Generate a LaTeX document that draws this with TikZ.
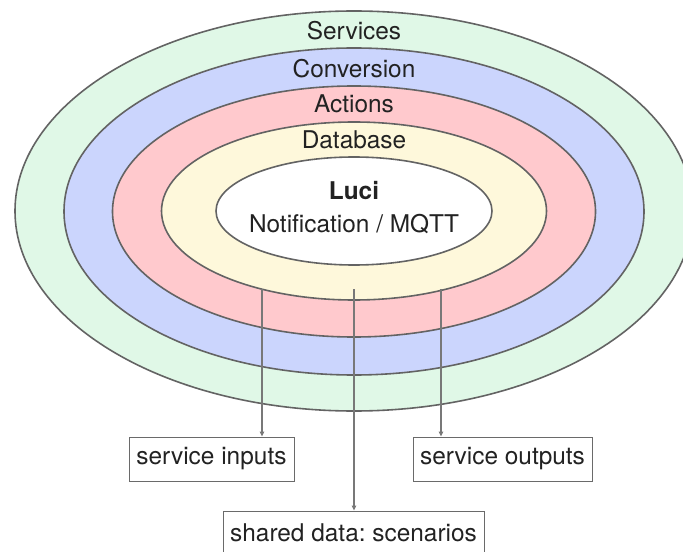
\documentclass[tikz,border=0pt]{standalone}
\usepackage{fontspec}
\setmainfont{TeX Gyre Heros}
\usetikzlibrary{shapes.geometric,arrows.meta}
\definecolor{ringline}{HTML}{636363}
\definecolor{cgreen}{HTML}{E0F8E7}
\definecolor{cblue}{HTML}{CBD5FD}
\definecolor{cred}{HTML}{FFC9CD}
\definecolor{cyellow}{HTML}{FEF8DB}
\definecolor{arrowgray}{HTML}{787878}
\definecolor{boxgray}{HTML}{6A6A6A}
\definecolor{txt}{HTML}{222222}
\tikzset{
  ring/.style={ellipse, draw=ringline, line width=1.6pt, inner sep=0pt},
  ringlabel/.style={font=\fontsize{24.5}{27}\selectfont, text=txt, inner sep=0pt},
  outbox/.style={draw=boxgray, line width=0.9pt, fill=white, font=\fontsize{24.5}{27}\selectfont, text=txt, inner sep=0pt, minimum height=44bp},
  flow/.style={draw=arrowgray, line width=1.1pt, -{Triangle[length=5pt,width=4.5pt]}}
}
\frenchspacing
\begin{document}
\begin{tikzpicture}[x=1bp,y=-1bp]
\useasboundingbox (0,0) rectangle (683,552);
\clip (0,0) rectangle (683,552);
\node[ring, fill=cgreen, minimum width=678bp, minimum height=400bp] (services) at (354,211) {};
\node[ring, fill=cblue, minimum width=580bp, minimum height=327bp] (conversion) at (354,211.5) {};
\node[ring, fill=cred, minimum width=483bp, minimum height=251bp] (actions) at (354,211.5) {};
\node[ring, fill=cyellow, minimum width=385bp, minimum height=178bp] (database) at (354,211) {};
\node[ring, fill=white, minimum width=276bp, minimum height=108bp] (luci) at (354,211) {};
\node[ringlabel] (lservices) at (354,31) {Services};
\node[ringlabel] (lconversion) at (354,69) {Conversion};
\node[ringlabel] (lactions) at (354,104) {Actions};
\node[ringlabel] (ldatabase) at (354,140) {Database};
\node[ringlabel, font=\fontsize{24.5}{27}\selectfont\bfseries] (lluci) at (354,191) {Luci};
\node[ringlabel] (lnotif) at (354,224) {Notification / MQTT};
\node[outbox, minimum width=165bp] (inputs) at (211.5,459) {service inputs};
\node[outbox, minimum width=179bp] (outputs) at (502.5,459) {service outputs};
\node[outbox, minimum width=261bp] (shared) at (353.5,533) {shared data: scenarios};
\coordinate (sin) at (262,289);
\coordinate (ssh) at (354,289);
\coordinate (sout) at (441,289);
\draw[flow] (sin) -- (sin |- inputs.north);
\draw[flow] (ssh) -- (ssh |- shared.north);
\draw[flow] (sout) -- (sout |- outputs.north);
\end{tikzpicture}
\end{document}
